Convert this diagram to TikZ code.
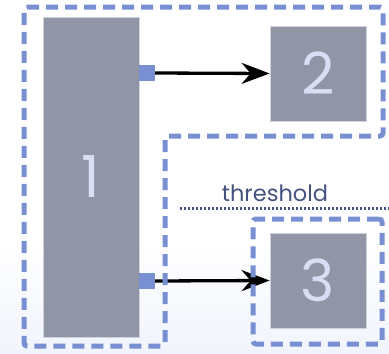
\documentclass[tikz,border=0pt]{standalone}
\usepackage{fontspec}
\setmainfont{Poppins}
\usetikzlibrary{arrows.meta}
\definecolor{boxgray}{HTML}{9096A6}
\definecolor{boxedge}{HTML}{CDD2DE}
\definecolor{digit}{HTML}{D8DEF4}
\definecolor{dashblue}{HTML}{7890D2}
\definecolor{thrcol}{HTML}{45517F}
\definecolor{bgbot}{HTML}{F1F4FC}
\tikzset{
  graybox/.style={draw=boxedge, line width=0.8pt, fill=boxgray, text=digit, font=\fontsize{58}{58}\selectfont, inner sep=0pt},
  port/.style={fill=dashblue, minimum size=16pt, inner sep=0pt},
  dashline/.style={draw=dashblue, line width=5pt, dash pattern=on 12pt off 7pt, rounded corners=3pt},
  conn/.style={line width=3.3pt, -{Stealth[length=28pt,width=21pt,inset=9pt]}}
}
\begin{document}
\begin{tikzpicture}[x=1pt,y=-1pt]
\useasboundingbox (0,0) rectangle (389,354);
\shade[top color=white, bottom color=bgbot] (0,240) rectangle (389,354);
% boxes
\node[graybox, minimum width=96pt, minimum height=320pt] (b1) at (91,177) {1};
\node[graybox, minimum width=96pt, minimum height=95pt] (b2) at (318,73.5) {2};
\node[graybox, minimum width=96pt, minimum height=95pt] (b3) at (318,280.5) {3};
% ports
\node[port] (p1) at (147,73) {};
\node[port] (p2) at (147,281) {};
% threshold
\coordinate (t1) at (180,208);
\coordinate (t2) at (389,208);
\draw[thrcol, line width=3pt, dash pattern=on 2.2pt off 1.8pt] (t1) -- (t2);
\node[text=thrcol, font=\fontsize{22.5}{22.5}\selectfont, anchor=base] (thr) at (275,201.5) {threshold};
% connectors
\draw[conn] (p1.east) -- (b2.west);
\draw[conn] (p2.east) -- (b3.west);
% dashed outlines
\draw[dashline] (24,7) -- (383,7) -- (383,136) -- (165,136) -- (165,346) -- (24,346) -- cycle;
\node[dashline, minimum width=129pt, minimum height=125pt, inner sep=0pt] (f3) at (317.5,281.5) {};
\end{tikzpicture}
\end{document}
